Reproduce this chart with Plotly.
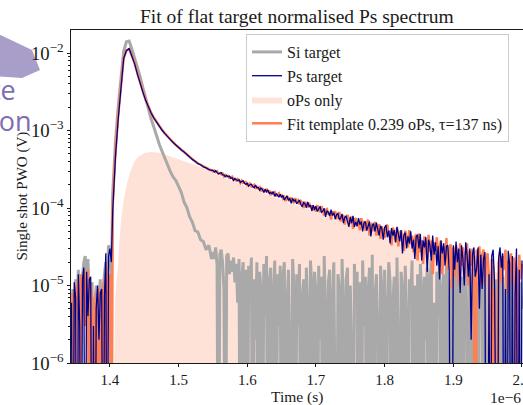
import numpy as np
import plotly.graph_objects as go

# Digitiser sample clock, piecewise: (start in microseconds, step, number of samples)
SEGMENTS_US = [(1.344, 0.002, 30), (1.404, 0.004, 37), (1.550, 0.002, 226)]

# Single-shot PWO signals in microvolts (values <= 0 sit below the log axis)
SI_UV = [
    4, 9, 2, 12, 6, 16, 1, 10, 13, 20, 24, 8, 22, 5, 9, 11, 0, 6, 10, 3, 7, 12, 0, 9, 14, 20, 11, 33, 28, 12,
    150, 700, 2000, 5000, 10500, 14000, 14300, 11200, 8700, 6450,
    4900, 3550, 2540, 1900, 1410, 1100, 830, 660, 537, 436,
    355, 295, 251, 226, 190, 158, 119, 101, 77, 66,
    51, 49, 39, 37, 29, 33, 22,
    27, 22, 31, 18, 0, 25, 29, 20, 9, 0, 24, 26, 14, 21, 15, 23, 11, 19, 6, 22, 0, 13, 20, 0, 16,
    -4, 18, 7, 23, -8, 12, 2, 20, -3, 15, 9, -11, 19, 4, 24, -6, 11, 17, 0, 8, 21, -9, 14, 3, 18,
    -2, 13, 20, -7, 6, 16, 1, -10, 22, 9, -5, 14, 3, 19, -12, 7, 12, -1, 17, 5, -8, 21, 10, -4, 15,
    8, -9, 18, 2, 13, -6, 24, 4, -3, 11, 16, -11, 6, 20, 0, -7, 14, 9, -2, 22, 5, -10, 12, 17, -5,
    10, 1, -8, 19, 6, 15, -4, 11, -12, 21, 3, 13, -6, 8, 17, -1, 25, -9, 7, 14, 2, -5, 18, 9, -3,
    16, -7, 4, 20, 11, -10, 6, 13, -2, 23, 1, -8, 15, 9, -4, 18, 3, -11, 12, 7, 21, -6, 10, 0, 14,
    -3, 19, 8, -9, 13, 2, 17, -5, 11, 22, -1, 6, -12, 15, 4, 20, -7, 9, 14, -2, 18, 5, -10, 12, 7,
    -6, 16, 1, 21, 10, -4, 13, -11, 8, 19, 3, -8, 14, 6, -2, 24, 0, 11, -9, 17, 5, 12, -5, 20, 2,
    -7, 15, 9, -3, 18, 4, 12, -10, 7, 21, -1, 13, 6, -8, 16, 2, 19, -5, 10, 14, -12, 8, 17, 0, 11, 5,
]

PS_UV = [
    6, 0, 11, 7, 0, 14, 3, 0, 12, 17, 0, 15, 4, 12, 13, 0, 3, 0, 5, 10, 2, 8, 9, 0, 7, 26, 0, 24, 30, 20,
    90, 450, 1400, 3600, 8500, 10800, 11400, 9100, 7250, 5350,
    3980, 3130, 2450, 2000, 1680, 1445, 1270, 1120, 1007, 912,
    826, 762, 702, 646, 604, 559, 528, 487, 460, 424,
    401, 373, 362, 340, 330, 313, 307,
    306, 291, 302, 286, 276, 282, 286, 267, 267, 253, 264, 253, 258, 241, 245, 228, 240, 232, 225, 232, 214, 221, 224, 209, 202,
    209, 191, 200, 203, 188, 182, 198, 182, 184, 170, 181, 173, 159, 174, 162, 171, 154, 159, 153, 163, 141, 152, 146, 139, 150,
    137, 145, 127, 135, 143, 125, 133, 115, 133, 123, 127, 113, 122, 126, 111, 104, 118, 113, 101, 120, 104, 109, 92, 109, 95,
    105, 90, 99, 105, 88, 91, 99, 77, 92, 88, 79, 95, 80, 87, 72, 82, 85, 71, 74, 84, 64, 76, 78, 67, 57,
    77, 64, 79, 57, 66, 59, 74, 61, 67, 50, 64, 67, 51, 58, 67, 43, 60, 62, 50, 65, 50, 44, 59, 54, 39,
    56, 60, 42, 51, 35, 55, 44, 52, 36, 57, 43, 37, 52, 26, 45, 48, 30, 43, 35, 50, 30, 39, 22, 43, 45,
    30, 46, 21, 38, 31, 42, 15, 39, 33, 21, 44, 25, 36, 18, 32, 12, 38, 26, 35, 18, 32, 33, 16, 0, 0,
    33, 16, 37, 20, 30, 8, 33, 22, 10, 36, 25, 13, 30, 2, 25, 31, 13, 17, 31, 5, 25, 9, 22, 27, 0,
    0, 14, 0, 24, 29, 11, 0, 0, 22, 31, 17, 26, 0, 9, 0, 28, 19, 0, 24, 0, 7, 30, 0, 16, 0, 21,
]

FIT_UV = [
    2, 8, 0, 10, 5, 12, 0, 14, 9, 15, 3, 13, 16, 0, 11, 6, 0, 4, 8, 0, 9, 6, 0, 8, 12, 0, 17, 10, 14, 0,
    110, 520, 1550, 3800, 8600, 10700, 11200, 9150, 7350, 5450,
    4060, 3190, 2490, 2030, 1700, 1460, 1280, 1130, 1015, 918,
    832, 766, 706, 650, 604, 565, 528, 492, 459, 429,
    400, 378, 360, 344, 329, 317, 306,
    297, 304, 291, 298, 276, 280, 271, 280, 256, 267, 257, 260, 243, 249, 254, 230, 237, 226, 236, 226, 210, 224, 211, 215, 216,
    197, 204, 207, 190, 193, 199, 177, 187, 178, 185, 164, 177, 172, 161, 177, 158, 168, 147, 158, 152, 159, 141, 151, 155, 139,
    149, 132, 138, 123, 139, 135, 121, 137, 122, 115, 134, 119, 125, 112, 123, 117, 100, 120, 110, 101, 117, 101, 108, 92, 106,
    90, 109, 94, 88, 106, 93, 80, 95, 97, 82, 90, 71, 91, 81, 91, 74, 75, 89, 67, 77, 81, 61, 77, 81, 66,
    63, 78, 54, 71, 74, 57, 66, 52, 74, 58, 68, 51, 63, 71, 44, 58, 64, 50, 66, 44, 56, 62, 40, 58, 50,
    41, 57, 61, 43, 51, 33, 56, 47, 37, 56, 32, 48, 51, 38, 28, 51, 42, 31, 52, 34, 44, 27, 41, 46, 21,
    47, 27, 39, 19, 43, 35, 22, 45, 27, 38, 14, 36, 28, 42, 20, 32, 38, 14, 32, 21, 41, 16, 28, 34, 9,
    31, 13, 33, 26, 10, 35, 18, 31, 13, 26, 35, 10, 28, 18, 30, 13, 0, 29, 15, 32, 10, 25, 29, 10, 23,
    26, 12, 0, 22, 0, 9, 0, 0, 19, 27, 11, 24, 16, 29, 8, 21, 14, 26, 10, 23, 17, 0, 5, 25, 12, 19,
]

# oPs-only component of the fit template
OPS_T_US = [1.406, 1.4075, 1.409, 1.4115, 1.414, 1.4165, 1.420, 1.425, 1.430,
            1.435, 1.440, 1.445, 1.450, 1.460, 1.470, 1.480, 1.490, 1.500,
            1.520, 1.540, 1.560, 1.600, 1.650, 1.700, 1.750, 1.800, 1.850,
            1.900, 1.950, 2.000]
OPS_UV = [0.5, 6.5, 10, 17, 39, 74, 126, 210, 300,
          390, 450, 483, 513, 528, 522, 490, 456, 424,
          370, 318, 257, 186, 127, 89, 62, 45, 32,
          22.4, 16, 11.7]

X_TICKS = [1.4, 1.5, 1.6, 1.7, 1.8, 1.9, 2.0]
X_TICK_TEXT = ["1.4", "1.5", "1.6", "1.7", "1.8", "1.9", "2.0"]

# non-positive samples are clipped far below the visible decade range
FLOOR_V = 1e-9


def to_volts(uv):
    v = np.asarray(uv, dtype=float) * 1e-6
    return np.where(v > 0, v, FLOOR_V)


t_us = np.round(np.concatenate([s + d * np.arange(n) for s, d, n in SEGMENTS_US]), 4)
for series in (SI_UV, PS_UV, FIT_UV):
    assert len(series) == len(t_us), (len(series), len(t_us))

SERIF = "Liberation Serif"
INK = "#1a1a1a"

fig = go.Figure()

fig.add_trace(go.Scatter(
    x=OPS_T_US, y=[FLOOR_V] * len(OPS_T_US), mode="lines",
    line=dict(width=0, color="rgba(0,0,0,0)"), showlegend=False, hoverinfo="skip"))
fig.add_trace(go.Scatter(
    x=OPS_T_US, y=to_volts(OPS_UV), mode="lines", name="oPs only",
    fill="tonexty", fillcolor="rgba(255,160,122,0.3)",
    line=dict(width=0, color="rgba(255,160,122,0.3)"), legendrank=3))
fig.add_trace(go.Scatter(
    x=t_us, y=to_volts(SI_UV), mode="lines", name="Si target",
    line=dict(color="#a9a9a9", width=3), legendrank=1))
fig.add_trace(go.Scatter(
    x=t_us, y=to_volts(FIT_UV), mode="lines",
    name="Fit template 0.239 oPs, τ=137 ns)",
    line=dict(color="#ff7f50", width=2.5), legendrank=4))
fig.add_trace(go.Scatter(
    x=t_us, y=to_volts(PS_UV), mode="lines", name="Ps target",
    line=dict(color="#00008b", width=1.3), legendrank=2))

L, R, T, B = 71, 0, 30, 42
W, H = 523, 405
PW, PH = W - L - R, H - T - B


def px(x):
    return (x - L) / PW


def py(y):
    return (H - B - y) / PH


# slide decoration behind the figure
hexagon = [(-10, 30), (32, 50), (40, 70), (22, 78), (-10, 76)]
path = "M " + " L ".join(f"{px(a):.4f},{py(b):.4f}" for a, b in hexagon) + " Z"

fig.update_layout(
    width=W, height=H,
    margin=dict(l=L, r=R, t=T, b=B, pad=0),
    paper_bgcolor="white", plot_bgcolor="white",
    font=dict(family=SERIF, size=15, color=INK),
    showlegend=True,
    legend=dict(x=px(246), y=py(34), xanchor="left", yanchor="top",
                bgcolor="rgba(255,255,255,0.85)", bordercolor="#cccccc",
                borderwidth=1, font=dict(family=SERIF, size=16, color=INK),
                itemwidth=30, traceorder="normal"),
    xaxis=dict(range=[1.3433, 2.0015], tickvals=X_TICKS, ticktext=X_TICK_TEXT,
               ticks="outside", ticklen=3.5, tickwidth=0.8, tickcolor=INK,
               showline=True, linewidth=0.8, linecolor=INK, mirror=True,
               showgrid=False, zeroline=False, automargin=False,
               ticklabeloverflow="allow",
               tickfont=dict(family=SERIF, size=15, color=INK)),
    yaxis=dict(type="log", range=[-6, -1.703], dtick=1, exponentformat="power",
               ticks="outside", ticklen=3.5, tickwidth=0.8, tickcolor=INK,
               minor=dict(ticks="outside", ticklen=2, tickwidth=0.6,
                          tickcolor=INK, showgrid=False),
               showline=True, linewidth=0.8, linecolor=INK, mirror=True,
               showgrid=False, zeroline=False, automargin=False,
               tickfont=dict(family=SERIF, size=15, color=INK)),
    shapes=[dict(type="path", path=path, xref="paper", yref="paper",
                 fillcolor="#a99dc9", line=dict(width=0), layer="below")],
    annotations=[
        dict(text="Fit of flat target normalised Ps spectrum", xref="paper", yref="paper",
             x=0.5, y=py(16), xanchor="center", yanchor="middle", showarrow=False,
             font=dict(family=SERIF, size=19.5, color=INK)),
        dict(text="Time (s)", xref="paper", yref="paper", x=0.5, y=py(397),
             xanchor="center", yanchor="middle", showarrow=False,
             font=dict(family=SERIF, size=15.5, color=INK)),
        dict(text="1e\u22126", xref="paper", yref="paper", x=1.0, y=py(397),
             xanchor="right", yanchor="middle", showarrow=False,
             font=dict(family=SERIF, size=15.5, color=INK)),
        dict(text="Single shot PWO (V)", xref="paper", yref="paper", x=px(22), y=0.5,
             xanchor="center", yanchor="middle", textangle=-90, showarrow=False,
             font=dict(family=SERIF, size=15, color=INK)),
        dict(text="te", xref="paper", yref="paper", x=px(18), y=py(89),
             xanchor="right", yanchor="middle", showarrow=False,
             font=dict(family="Open Sans", size=27, color="#7d6eb0")),
        dict(text="ion", xref="paper", yref="paper", x=px(34), y=py(121),
             xanchor="right", yanchor="middle", showarrow=False,
             font=dict(family="Open Sans", size=27, color="#7d6eb0")),
    ],
)

fig.write_html("out.html")
